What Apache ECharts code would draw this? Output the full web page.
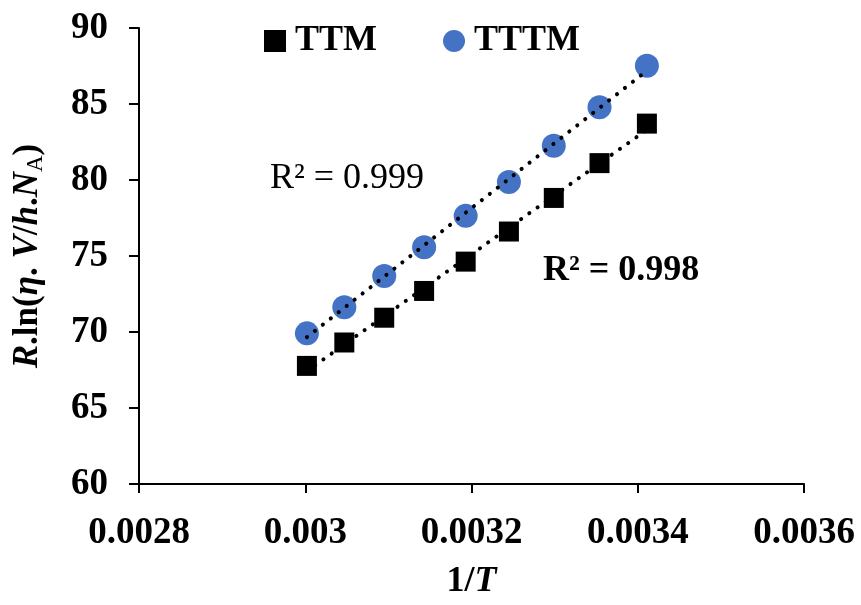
<!DOCTYPE html>
<html>
<head>
<meta charset="utf-8">
<script src="https://cdn.jsdelivr.net/npm/echarts@6/dist/echarts.min.js"></script>
<style>
  html, body { margin: 0; padding: 0; background: #fff; }
  #main { width: 861px; height: 605px; }
</style>
</head>
<body>
<div id="main"></div>
<script>
// 1/T values (T = 333.15 ... 293.15 K)
var invT = [0.003002, 0.003047, 0.003095, 0.003143, 0.003193, 0.003245, 0.003299, 0.003354, 0.003411];
var ttm = [67.77, 69.31, 70.94, 72.70, 74.63, 76.61, 78.82, 81.11, 83.71];
var tttm = [69.91, 71.63, 73.69, 75.58, 77.64, 79.87, 82.25, 84.78, 87.51];
var xTicks = [0.0028, 0.003, 0.0032, 0.0034, 0.0036];
var yTicks = [60, 65, 70, 75, 80, 85, 90];
var r2Labels = ["R² = 0.999", "R² = 0.998"];

var FONT = "'Liberation Serif', 'Times New Roman', serif";

// least squares trend line between first and last x
function trend(xs, ys) {
  var n = xs.length, sx = 0, sy = 0, sxx = 0, sxy = 0;
  for (var i = 0; i < n; i++) {
    sx += xs[i]; sy += ys[i];
    sxx += xs[i] * xs[i]; sxy += xs[i] * ys[i];
  }
  var b = (n * sxy - sx * sy) / (n * sxx - sx * sx);
  var a = (sy - b * sx) / n;
  var x0 = xs[0], x1 = xs[n - 1];
  return [[x0, a + b * x0], [x1, a + b * x1]];
}

function pairs(xs, ys) {
  var out = [];
  for (var i = 0; i < xs.length; i++) out.push([xs[i], ys[i]]);
  return out;
}

var myChart = echarts.init(document.getElementById("main"));

var dotted = { color: "#000", width: 4, type: [0.1, 10], cap: "round" };

var option = {
  backgroundColor: "#fff",
  animation: false,
  textStyle: { fontFamily: FONT },
  grid: { left: 139, top: 28, width: 665, height: 466, containLabel: false },
  legend: {
    data: ["TTM", "TTTM"],
    left: 259,
    top: 18,
    itemWidth: 22,
    itemHeight: 22,
    itemGap: 66,
    textStyle: { fontFamily: FONT, fontSize: 36, fontWeight: "bold", color: "#000", padding: [0, 0, 0, 4] }
  },
  xAxis: {
    type: "value",
    min: xTicks[0],
    max: xTicks[xTicks.length - 1],
    interval: 0.0002,
    name: "{b|1/}{i|T}",
    nameLocation: "middle",
    nameGap: 80,
    nameTextStyle: {
      rich: {
        b: { fontFamily: FONT, fontSize: 36, fontWeight: "bold", color: "#000" },
        i: { fontFamily: FONT, fontSize: 36, fontWeight: "bold", fontStyle: "italic", color: "#000" }
      }
    },
    splitLine: { show: false },
    axisLine: { lineStyle: { color: "#000", width: 2 } },
    axisTick: { length: 9, lineStyle: { color: "#000", width: 2 } },
    axisLabel: {
      margin: 31,
      fontFamily: FONT,
      fontSize: 37,
      fontWeight: "bold",
      color: "#000",
      formatter: function(v) { return String(+v.toFixed(4)); }
    }
  },
  yAxis: {
    type: "value",
    min: yTicks[0],
    max: yTicks[yTicks.length - 1],
    interval: 5,
    name: "{i|R}{b|.ln(}{i|η}{b|. }{i|V}{b|/}{i|h}{b|.}{i|N}{s|A}{b|)}",
    nameLocation: "middle",
    nameRotate: 90,
    nameGap: 92,
    nameTextStyle: {
      rich: {
        b: { fontFamily: FONT, fontSize: 35, fontWeight: "bold", color: "#000" },
        i: { fontFamily: FONT, fontSize: 35, fontWeight: "bold", fontStyle: "italic", color: "#000" },
        s: { fontFamily: FONT, fontSize: 23, fontWeight: "normal", color: "#000", padding: [16, 0, 0, 0] }
      }
    },
    splitLine: { show: false },
    axisLine: { show: true, lineStyle: { color: "#000", width: 2 } },
    axisTick: { show: true, length: 10, lineStyle: { color: "#000", width: 2 } },
    axisLabel: {
      margin: 31,
      fontFamily: FONT,
      fontSize: 37,
      fontWeight: "bold",
      color: "#000"
    }
  },
  graphic: [
    {
      type: "text", left: 270, top: 161,
      style: { text: r2Labels[0], font: "normal 36px " + FONT, fill: "#000" }
    },
    {
      type: "text", left: 543, top: 253,
      style: { text: r2Labels[1], font: "bold 36px " + FONT, fill: "#000" }
    }
  ],
  series: [
    {
      name: "TTM",
      type: "scatter",
      symbol: "rect",
      symbolSize: 20,
      itemStyle: { color: "#000", opacity: 1 },
      data: pairs(invT, ttm),
      z: 2
    },
    {
      name: "TTTM",
      type: "scatter",
      symbol: "circle",
      symbolSize: 24,
      itemStyle: { color: "#4472C4", opacity: 1 },
      data: pairs(invT, tttm),
      z: 2
    },
    {
      name: "TTM trend",
      type: "line",
      data: trend(invT, ttm),
      symbol: "none",
      lineStyle: dotted,
      z: 5
    },
    {
      name: "TTTM trend",
      type: "line",
      data: trend(invT, tttm),
      symbol: "none",
      lineStyle: dotted,
      z: 5
    }
  ]
};
myChart.setOption(option);
</script>
</body>
</html>
